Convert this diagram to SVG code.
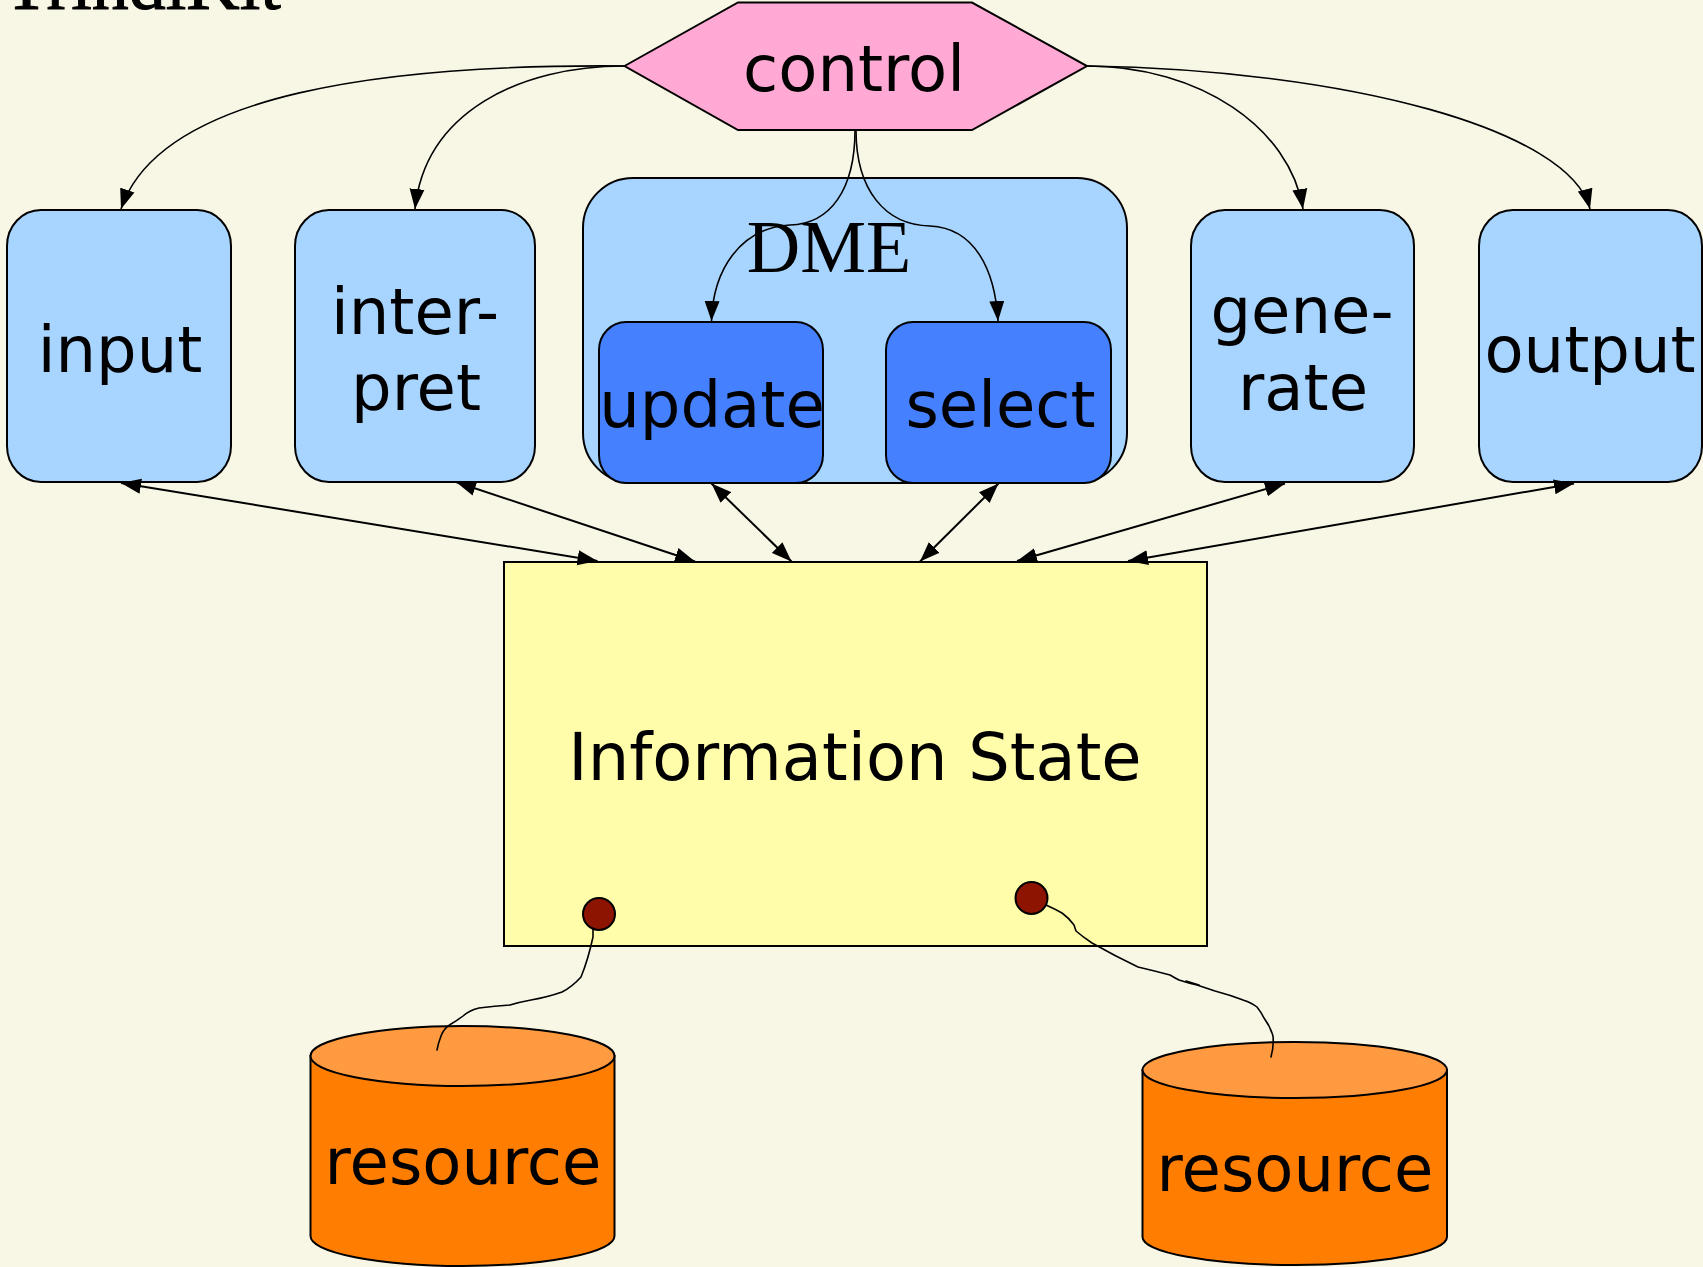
<svg xmlns="http://www.w3.org/2000/svg" width="1703" height="1267" viewBox="0 0 1703 1267">
  <defs>
    <marker id="arrow" markerUnits="userSpaceOnUse" markerWidth="21" markerHeight="16" refX="20" refY="7.5" orient="auto-start-reverse" viewBox="0 0 21 15">
      <path d="M0,0 L20,7.5 L0,15 Z" fill="#000"/>
    </marker>
    <style>
      .lbl { font-family: "DejaVu Sans", Verdana, sans-serif; font-size: 64px; fill: #000; text-anchor: middle; }
      .big { font-size: 65.5px; }
      .box { fill: #A8D5FF; stroke: #000; stroke-width: 2; }
      .sub { fill: #4580FF; stroke: #000; stroke-width: 2; }
      .flow { fill: none; stroke: #000; stroke-width: 1.6; marker-end: url(#arrow); }
      .link { fill: none; stroke: #000; stroke-width: 2; marker-start: url(#arrow); marker-end: url(#arrow); }
      .fuse { fill: none; stroke: #000; stroke-width: 1.6; stroke-linejoin: round; stroke-linecap: round; }
      .can { fill: #FF7D00; stroke: #000; stroke-width: 2; }
      .lid { fill: #FF9A40; stroke: #000; stroke-width: 2; }
      .dot { fill: #8C1400; stroke: #000; stroke-width: 2; }
    </style>
  </defs>

  <!-- page background -->
  <rect x="0" y="0" width="1703" height="1267" fill="#F8F7E6"/>

  <!-- slide title, partly above the top edge -->
  <text x="4" y="9" font-family="Liberation Serif, Times New Roman, serif" font-size="74" fill="#000" stroke="#000" stroke-width="1">TrindiKit</text>

  <g id="control">
    <polygon points="624.5,66 738,2.5 972,2.5 1087,66 972,130 738,130" fill="#FFA9D4" stroke="#000" stroke-width="2"/>
    <text class="lbl" x="854" y="91">control</text>
  </g>

  <g id="input">
    <rect class="box" x="7" y="210" width="224" height="272" rx="34" ry="36"/>
    <text class="lbl" x="120" y="372">input</text>
  </g>

  <g id="interpret">
    <rect class="box" x="295" y="210" width="240" height="272" rx="34" ry="36"/>
    <text class="lbl" x="415" y="334">inter-</text>
    <text class="lbl" x="416" y="410">pret</text>
  </g>

  <g id="dme">
    <rect class="box" x="583" y="178" width="544" height="305" rx="50" ry="50"/>
    <text x="829" y="272" font-family="Liberation Serif, Times New Roman, serif" font-size="74" text-anchor="middle" fill="#000">DME</text>
  </g>

  <g id="update">
    <rect class="sub" x="599" y="322" width="224" height="161" rx="27" ry="28"/>
    <text class="lbl" x="712" y="427">update</text>
  </g>

  <g id="select">
    <rect class="sub" x="886" y="322" width="225" height="161" rx="27" ry="28"/>
    <text class="lbl" x="1000.5" y="427">select</text>
  </g>

  <g id="generate">
    <rect class="box" x="1191" y="210" width="223" height="272" rx="34" ry="36"/>
    <text class="lbl" x="1302" y="333">gene-</text>
    <text class="lbl" x="1303" y="410">rate</text>
  </g>

  <g id="output">
    <rect class="box" x="1479" y="210" width="223" height="272" rx="34" ry="36"/>
    <text class="lbl" x="1590" y="372">output</text>
  </g>

  <g id="infostate">
    <rect x="504" y="562" width="703" height="384" fill="#FFFCAA" stroke="#000" stroke-width="2"/>
    <text class="lbl big" x="855" y="780">Information State</text>
    <circle class="dot" cx="599" cy="914" r="16"/>
    <circle class="dot" cx="1031.5" cy="898" r="16"/>
  </g>

  <g id="resource1">
    <path class="can" d="M310.5,1056 L310.5,1236 A152,30 0 0 0 614.5,1236 L614.5,1056 Z"/>
    <ellipse class="lid" cx="462.5" cy="1056" rx="152" ry="30"/>
    <text class="lbl" x="463" y="1184">resource</text>
  </g>

  <g id="resource2">
    <path class="can" d="M1142.5,1070 L1142.5,1237 A152.25,28 0 0 0 1447,1237 L1447,1070 Z"/>
    <ellipse class="lid" cx="1294.75" cy="1070" rx="152.25" ry="28"/>
    <text class="lbl" x="1295" y="1191">resource</text>
  </g>

  <g id="connectors">
    <!-- control to the modules -->
    <path class="flow" d="M624,66 C390,64 160,92 121,209"/>
    <path class="flow" d="M624,66 C520,66 425,112 415,209"/>
    <path class="flow" d="M1087,66 C1200,66 1290,128 1303,209"/>
    <path class="flow" d="M1087,66 C1350,70 1570,130 1590,209"/>
    <path class="flow" d="M855,130 C855,190 830,224 790,225 C740,228 713,270 711.5,321"/>
    <path class="flow" d="M856,130 C856,190 885,225 930,226 C975,228 995,270 998,321"/>

    <!-- modules to and from the information state -->
    <line class="link" x1="121" y1="483" x2="597.5" y2="561"/>
    <line class="link" x1="456" y1="482" x2="695" y2="561.5"/>
    <line class="link" x1="711.5" y1="483.5" x2="791.5" y2="561.5"/>
    <line class="link" x1="998.5" y1="483.5" x2="920" y2="561.5"/>
    <line class="link" x1="1285" y1="483.5" x2="1017" y2="561"/>
    <line class="link" x1="1574" y1="483.5" x2="1128" y2="561"/>

    <!-- resource links -->
    <path class="fuse" d="M593,928 L593,937 Q588,960 581,977 Q572,987 562,992 Q548,997 531,1000 Q520,1002 510,1005 Q495,1006 479,1008 Q470,1010 463,1016 Q458,1020 451,1024 Q444,1028 441,1036 Q438,1044 437,1050"/>
    <path class="fuse" d="M1046,905 Q1055,909 1062,913 Q1069,918 1074,925 L1076,931 Q1083,937 1092,943 Q1115,956 1138,967 Q1155,971 1170,975 Q1175,978 1179,980 Q1188,983 1197,985 Q1206,988 1215,991 Q1230,995 1243,1000 Q1252,1003 1257,1007 Q1261,1012 1264,1018 Q1270,1026 1273,1036 Q1274,1046 1271,1057"/>
    <path class="fuse" d="M1186,981 L1199,985"/>
  </g>
</svg>
